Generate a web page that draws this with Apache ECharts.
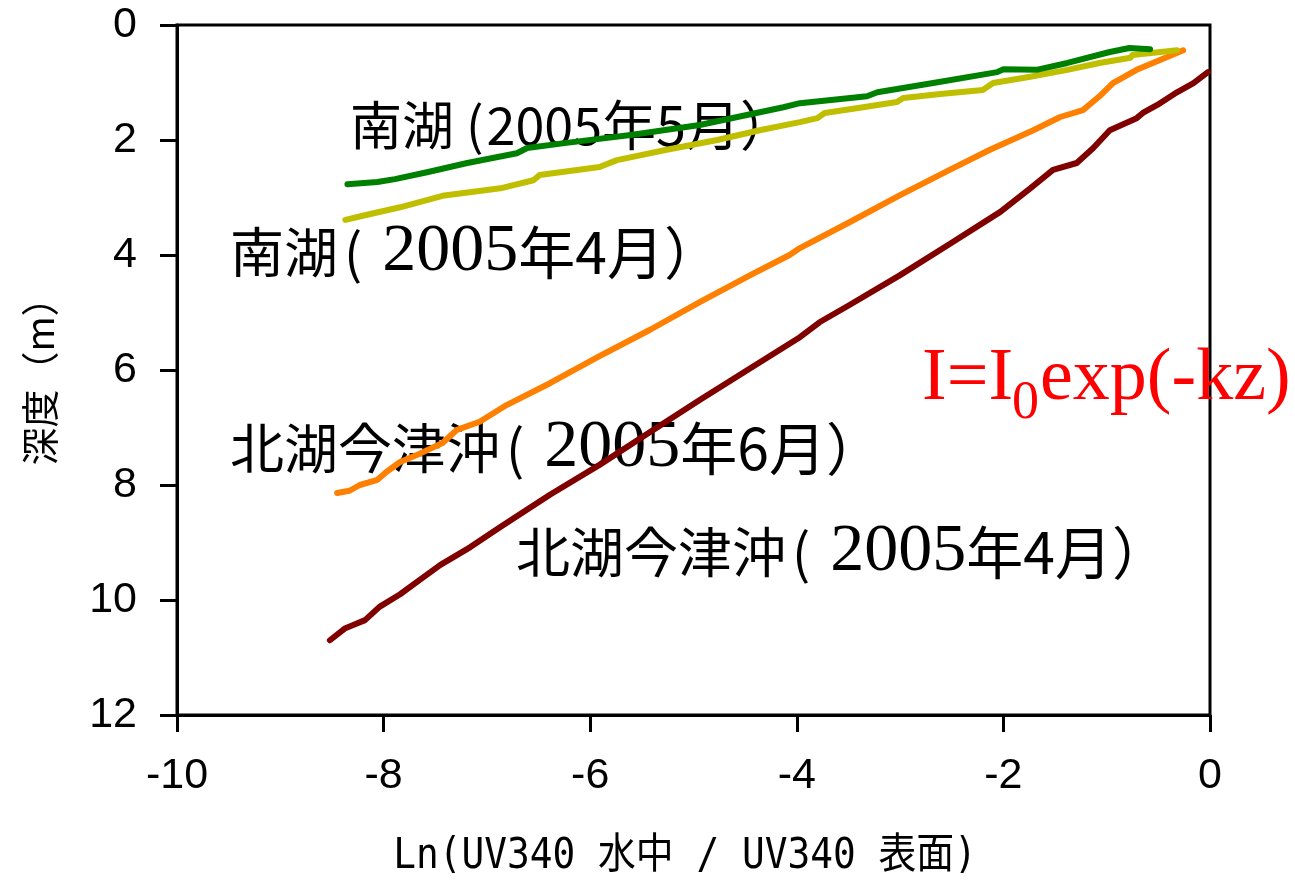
<!DOCTYPE html>
<html>
<head>
<meta charset="utf-8">
<script src="https://cdn.jsdelivr.net/npm/echarts@6/dist/echarts.min.js"></script>
<style>
  html, body { margin: 0; padding: 0; background: #fff; }
  #chart { width: 1295px; height: 882px; }
</style>
</head>
<body>
<div id="chart"></div>
<script>
// Depth profiles of ln(UV340 underwater / UV340 surface) vs depth (m)
const xRange = [-10, 0];
const yRange = [0, 12];
const tickStep = 2;

// 南湖 2005年5月
const southMay = [
  [-8.35, 2.77], [-8.06, 2.73], [-7.89, 2.68], [-7.58, 2.56], [-7.19, 2.40],
  [-6.71, 2.23], [-6.61, 2.14], [-6.23, 2.05], [-5.59, 1.91], [-4.94, 1.74],
  [-4.13, 1.43], [-3.97, 1.36], [-3.32, 1.24], [-3.22, 1.17], [-2.68, 1.01],
  [-2.06, 0.82], [-2.00, 0.77], [-1.68, 0.78], [-1.38, 0.66], [-0.97, 0.47],
  [-0.78, 0.40], [-0.58, 0.42]
];

// 南湖 2005年4月
const southApr = [
  [-8.37, 3.39], [-8.16, 3.30], [-7.84, 3.17], [-7.43, 2.97], [-6.87, 2.84],
  [-6.55, 2.70], [-6.49, 2.61], [-5.91, 2.47], [-5.74, 2.35], [-5.26, 2.17],
  [-4.77, 2.00], [-4.36, 1.83], [-3.97, 1.69], [-3.80, 1.62], [-3.73, 1.53],
  [-3.39, 1.44], [-3.03, 1.34], [-2.97, 1.27], [-2.61, 1.20], [-2.20, 1.13],
  [-2.10, 1.01], [-1.74, 0.90], [-1.38, 0.78], [-1.07, 0.66], [-0.77, 0.57],
  [-0.75, 0.52], [-0.32, 0.44]
];

// 北湖今津沖 2005年6月
const northJun = [
  [-8.45, 8.14], [-8.33, 8.10], [-8.23, 8.00], [-8.06, 7.91], [-7.97, 7.77],
  [-7.84, 7.60], [-7.68, 7.48], [-7.43, 7.27], [-7.29, 7.04], [-7.07, 6.90],
  [-6.81, 6.61], [-6.39, 6.23], [-5.91, 5.76], [-5.42, 5.30], [-4.94, 4.82],
  [-4.45, 4.35], [-4.07, 4.00], [-3.97, 3.88], [-3.49, 3.43], [-3.00, 2.96],
  [-2.52, 2.52], [-2.13, 2.17], [-1.71, 1.83], [-1.45, 1.60], [-1.23, 1.48],
  [-1.07, 1.24], [-0.94, 1.01], [-0.71, 0.78], [-0.42, 0.56], [-0.26, 0.44]
];

// 北湖今津沖 2005年4月
const northApr = [
  [-8.52, 10.70], [-8.37, 10.49], [-8.30, 10.44], [-8.18, 10.35], [-8.04, 10.12],
  [-7.84, 9.90], [-7.65, 9.65], [-7.45, 9.39], [-7.16, 9.08], [-6.87, 8.73],
  [-6.39, 8.17], [-5.91, 7.65], [-5.42, 7.08], [-4.94, 6.52], [-4.45, 5.97],
  [-3.97, 5.43], [-3.78, 5.17], [-3.49, 4.87], [-3.00, 4.35], [-2.52, 3.81],
  [-2.03, 3.25], [-1.74, 2.84], [-1.52, 2.52], [-1.29, 2.40], [-1.13, 2.14],
  [-0.97, 1.83], [-0.71, 1.62], [-0.65, 1.53], [-0.51, 1.39], [-0.32, 1.17],
  [-0.16, 1.01], [-0.02, 0.82]
];

const seriesDefs = [
  { name: '北湖今津沖（2005年4月）', data: northApr, color: '#800000' },
  { name: '北湖今津沖（2005年6月）', data: northJun, color: '#ff8000' },
  { name: '南湖（2005年4月）', data: southApr, color: '#bfbf00' },
  { name: '南湖（2005年5月）', data: southMay, color: '#008000' }
];

const cjk = '"Noto Sans CJK JP", "Noto Sans CJK SC", sans-serif';
const serif = '"Liberation Serif", "DejaVu Serif", serif';
const sans = '"Liberation Sans", Arial, sans-serif';

// rich styles shared by the station labels
const labelRich = {
  c: { fontFamily: cjk, fontSize: 54, fill: '#000' },
  p: { fontFamily: cjk, fontSize: 54, fill: '#000', padding: [0, 20, 0, 6] },
  n: { fontFamily: serif, fontSize: 68, fill: '#000' },
  s: { fontFamily: cjk, fontSize: 57, fill: '#000' },
  t: { fontFamily: cjk, fontSize: 52, fill: '#000' },
  q: { fontFamily: cjk, fontSize: 52, fill: '#000', padding: [0, 3, 0, 12] },
  u: { fontFamily: cjk, fontSize: 54, fill: '#000' }
};

function stationLabel(left, midY, parts) {
  return {
    type: 'text',
    x: left,
    y: midY,
    silent: true,
    style: {
      text: parts,
      fontFamily: cjk,
      fontSize: 54,
      fill: '#000',
      align: 'left',
      verticalAlign: 'middle',
      rich: labelRich
    }
  };
}

const chart = echarts.init(document.getElementById('chart'));
chart.setOption({
  animation: false,
  backgroundColor: '#fff',
  grid: {
    left: 177, right: 85, top: 25, bottom: 167,
    show: true, borderColor: '#000', borderWidth: 3, backgroundColor: 'transparent'
  },
  xAxis: {
    type: 'value',
    min: xRange[0], max: xRange[1], interval: tickStep,
    axisLine: { show: true, onZero: false, lineStyle: { color: '#000', width: 3 } },
    axisTick: { show: true, inside: false, length: 17, lineStyle: { color: '#000', width: 3 } },
    axisLabel: { color: '#000', fontFamily: sans, fontSize: 43, margin: 40 },
    splitLine: { show: false }
  },
  yAxis: {
    type: 'value',
    inverse: true,
    min: yRange[0], max: yRange[1], interval: tickStep,
    axisLine: { show: true, onZero: false, lineStyle: { color: '#000', width: 3 } },
    axisTick: { show: true, inside: false, length: 17, lineStyle: { color: '#000', width: 3 } },
    axisLabel: { color: '#000', fontFamily: sans, fontSize: 43, margin: 40 },
    splitLine: { show: false }
  },
  series: seriesDefs.map(s => ({
    type: 'line',
    name: s.name,
    data: s.data,
    showSymbol: false,
    symbol: 'none',
    smooth: false,
    clip: false,
    lineStyle: { color: s.color, width: 6, cap: 'round', join: 'round' }
  })),
  graphic: [
    // axis titles
    {
      type: 'text', x: 685, y: 857, scaleX: 0.9, silent: true,
      style: {
        text: 'Ln(UV340 水中 / UV340 表面)',
        fontFamily: '"DejaVu Sans Mono", "Noto Sans CJK JP", monospace', fontSize: 42,
        fill: '#000', align: 'center', verticalAlign: 'middle'
      }
    },
    {
      type: 'text', x: 40, y: 372, rotation: Math.PI / 2, silent: true,
      style: {
        text: '深度（m）',
        fontFamily: '"Noto Sans CJK JP", sans-serif', fontSize: 38,
        fill: '#000', align: 'center', verticalAlign: 'middle'
      }
    },
    // station labels
    stationLabel(350, 125, '{t|南湖}{q|(}{t|2005}{u|年5月）}'),
    stationLabel(230, 252, '{c|南湖}{p|(}{n|2005}{s|年4月）}'),
    stationLabel(230, 448, '{c|北湖今津沖}{p|(}{n|2005}{s|年6月）}'),
    stationLabel(516, 552, '{c|北湖今津沖}{p|(}{n|2005}{s|年4月）}'),
    // attenuation formula
    {
      type: 'text', x: 922, y: 380, silent: true,
      style: { text: 'I=I', fontFamily: serif, fontSize: 74, fill: '#ff0000', align: 'left', verticalAlign: 'middle' }
    },
    {
      type: 'text', x: 1012, y: 404, silent: true,
      style: { text: '0', fontFamily: serif, fontSize: 54, fill: '#ff0000', align: 'left', verticalAlign: 'middle' }
    },
    {
      type: 'text', x: 1040, y: 380, silent: true,
      style: { text: 'exp(-kz)', fontFamily: serif, fontSize: 74, fill: '#ff0000', align: 'left', verticalAlign: 'middle' }
    }
  ]
});
</script>
</body>
</html>
